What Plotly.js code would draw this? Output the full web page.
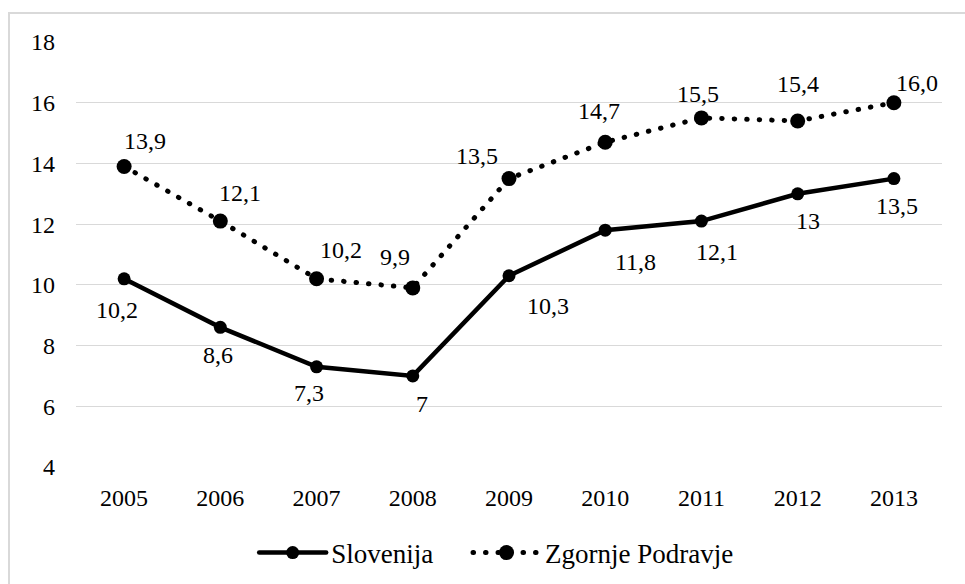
<!DOCTYPE html>
<html>
<head>
<meta charset="utf-8">
<script src="https://cdn.plot.ly/plotly-3.0.1.min.js"></script>
<style>
  html, body { margin: 0; padding: 0; background: #fff; overflow: hidden; }
  #chart { width: 965px; height: 584px; }
  #frame { position: absolute; left: 8px; top: 12px; width: 1100px; height: 1100px;
           border: 2px solid #d9d9d9; pointer-events: none; box-sizing: border-box; }
  .js-line { stroke-linecap: round; }
</style>
</head>
<body>
<div id="chart"></div>
<div id="frame"></div>
<script>
// ---- data ----
const years = ['2005', '2006', '2007', '2008', '2009', '2010', '2011', '2012', '2013'];
const slovenija = [10.2, 8.6, 7.3, 7.0, 10.3, 11.8, 12.1, 13.0, 13.5];
const zgornje = [13.9, 12.1, 10.2, 9.9, 13.5, 14.7, 15.5, 15.4, 16.0];
const slovenijaLabels = ['10,2', '8,6', '7,3', '7', '10,3', '11,8', '12,1', '13', '13,5'];
const zgornjeLabels = ['13,9', '12,1', '10,2', '9,9', '13,5', '14,7', '15,5', '15,4', '16,0'];
const seriesNames = ['Slovenija', 'Zgornje Podravje'];

// ---- label offsets (px) ----
const slovDx = [-7, -2, -8, 9, 39, 30, 16, 10, 3];
const slovDy = [-31, -28, -26, -28, -30, -32, -31, -27, -27];
const zgDx = [21, 20, 24, -18, -32, -6, -3, 0, 23];
const zgDy = [25, 28, 29, 31, 23, 31, 24, 37, 20];

const FONT = 'Liberation Serif';

const traces = [
  {
    x: years, y: slovenija, name: seriesNames[0], type: 'scatter', mode: 'lines+markers',
    line: { color: '#000', width: 4.5 },
    marker: { color: '#000', size: 13, symbol: 'circle' },
    legend: 'legend',
    hoverinfo: 'skip'
  },
  {
    x: years, y: zgornje, name: seriesNames[1], type: 'scatter', mode: 'lines+markers',
    line: { color: '#000', width: 5, dash: '0.5px,12px' },
    marker: { color: '#000', size: 15, symbol: 'circle' },
    legend: 'legend2',
    hoverinfo: 'skip'
  }
];

const annotations = [];
for (let i = 0; i < years.length; i++) {
  annotations.push({
    x: i, y: slovenija[i], xref: 'x', yref: 'y', text: slovenijaLabels[i],
    showarrow: false, xanchor: 'center', yanchor: 'middle',
    xshift: slovDx[i], yshift: slovDy[i],
    font: { family: FONT, size: 24, color: '#000' }
  });
  annotations.push({
    x: i, y: zgornje[i], xref: 'x', yref: 'y', text: zgornjeLabels[i],
    showarrow: false, xanchor: 'center', yanchor: 'middle',
    xshift: zgDx[i], yshift: zgDy[i],
    font: { family: FONT, size: 24, color: '#000' }
  });
}

const legendStyle = {
  orientation: 'h', xref: 'container', yref: 'container',
  xanchor: 'left', y: 0.053, yanchor: 'middle',
  itemwidth: 67,
  font: { family: FONT, size: 27, color: '#000' }
};

const layout = {
  width: 965, height: 584,
  margin: { l: 76, r: 23, t: 42, b: 117, pad: 0 },
  paper_bgcolor: '#fff', plot_bgcolor: '#fff',
  font: { family: FONT, size: 24, color: '#000' },
  showlegend: true,
  legend: Object.assign({}, legendStyle, { x: 0.2634 }),
  legend2: Object.assign({}, legendStyle, { x: 0.485 }),
  xaxis: {
    type: 'category', range: [-0.5, 8.5], showgrid: false, zeroline: false,
    showline: false, ticks: '', ticklabelstandoff: 14,
    tickfont: { family: FONT, size: 24, color: '#000' }
  },
  yaxis: {
    range: [4, 18], dtick: 2, tick0: 4, showgrid: true, gridcolor: '#d9d9d9', gridwidth: 1.2,
    zeroline: false, showline: false, ticks: '', ticklabelstandoff: 20,
    tickfont: { family: FONT, size: 24, color: '#000' }
  },
  annotations: annotations
};

Plotly.newPlot('chart', traces, layout, { staticPlot: true, displayModeBar: false });
</script>
</body>
</html>
